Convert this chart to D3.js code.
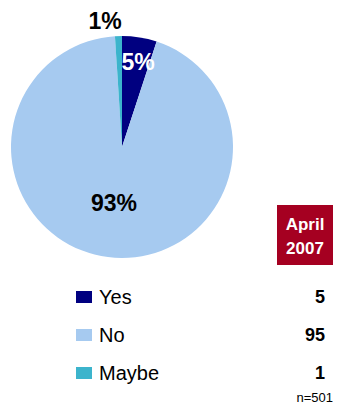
<!DOCTYPE html>
<html>
<head>
<meta charset="utf-8">
<script src="https://cdn.jsdelivr.net/npm/d3@7"></script>
<style>
  html, body { margin: 0; padding: 0; background: #fff; }
  svg { display: block; font-family: "Liberation Sans", Arial, sans-serif; }
</style>
</head>
<body>
<svg id="chart" width="340" height="414"></svg>
<script>
// Survey answers
const categories = ["Yes", "No", "Maybe"];
const percents = [5, 93, 1];          // shares shown on the pie
const counts = ["5", "95", "1"];      // column of values beside the legend
const colors = ["#000080", "#A6CAF0", "#3CB4CC"];
const periodLabel = ["April", "2007"];
const sampleNote = "n=501";

const svg = d3.select("#chart");

// Pie
const cx = 122, cy = 147, r = 111;
const pie = d3.pie().sort(null).value(d => d.v);
const arcs = pie(categories.map((c, i) => ({ c, v: percents[i], col: colors[i] })));
const arc = d3.arc().innerRadius(0).outerRadius(r);

const g = svg.append("g").attr("transform", `translate(${cx},${cy})`);
g.selectAll("path").data(arcs).join("path")
  .attr("d", arc)
  .attr("fill", d => d.data.col);

// Slice labels
const labelPos = [
  { x: 138, y: 70, fill: "#fff" },
  { x: 114, y: 211, fill: "#000" },
  { x: 105, y: 29, fill: "#000" }
];
svg.selectAll("text.pct").data(arcs).join("text")
  .attr("class", "pct")
  .attr("x", (d, i) => labelPos[i].x)
  .attr("y", (d, i) => labelPos[i].y)
  .attr("text-anchor", "middle")
  .attr("font-size", 23)
  .attr("font-weight", "bold")
  .attr("fill", (d, i) => labelPos[i].fill)
  .text(d => d.data.v + "%");

// Legend
const rowY = d3.scalePoint().domain(categories).range([297, 373]);
const legend = svg.append("g");
categories.forEach((c, i) => {
  const y = rowY(c);
  legend.append("rect")
    .attr("x", 76).attr("y", y - 6)
    .attr("width", 16).attr("height", 12)
    .attr("fill", colors[i]);
  legend.append("text")
    .attr("x", 99).attr("y", y + 7)
    .attr("font-size", 20)
    .attr("fill", "#000")
    .text(c);
  legend.append("text")
    .attr("x", 325).attr("y", y + 6)
    .attr("text-anchor", "end")
    .attr("font-size", 18)
    .attr("font-weight", "bold")
    .attr("fill", "#000")
    .text(counts[i]);
});

// Period box
svg.append("rect")
  .attr("x", 277).attr("y", 205)
  .attr("width", 56).attr("height", 60)
  .attr("fill", "#A50021");
periodLabel.forEach((t, i) => {
  svg.append("text")
    .attr("x", 305).attr("y", 230 + i * 24)
    .attr("text-anchor", "middle")
    .attr("font-size", 17)
    .attr("font-weight", "bold")
    .attr("fill", "#fff")
    .text(t);
});

svg.append("text")
  .attr("x", 333).attr("y", 402)
  .attr("text-anchor", "end")
  .attr("font-size", 13)
  .attr("fill", "#000")
  .text(sampleNote);
</script>
</body>
</html>
